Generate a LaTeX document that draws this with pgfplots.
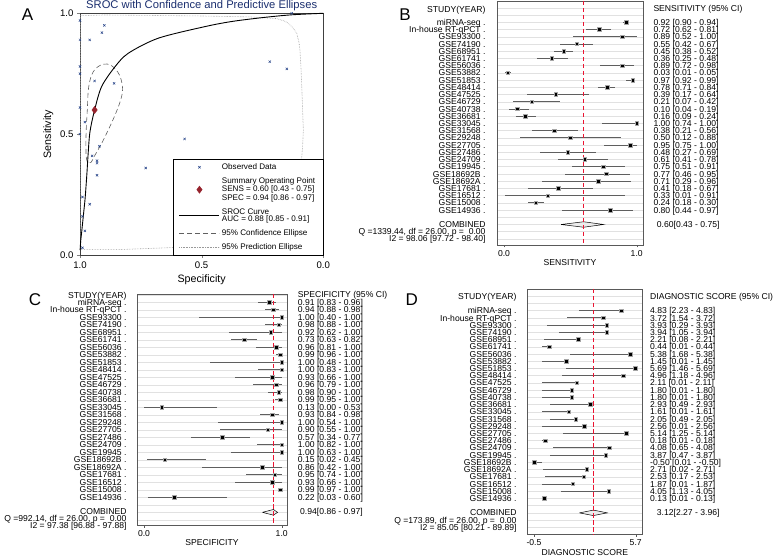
\documentclass[border=0pt]{standalone}
\usepackage{pgfplots}
\pgfplotsset{compat=1.18}
\usepackage{pgfplotstable}
\usepackage{fontspec}
\setmainfont{Liberation Sans}
\definecolor{navy}{RGB}{26,46,110}
\definecolor{obsblue}{RGB}{35,65,135}
\definecolor{sumred}{RGB}{150,35,45}
\definecolor{refred}{RGB}{235,20,50}
\definecolor{gridc}{RGB}{225,225,225}
\definecolor{cigray}{RGB}{95,95,95}
\newcommand\fs{\fontsize{8.6}{8.6}\selectfont}

\pgfplotstableread{
spec sens
0.91 0.92
0.94 0.72
1.00 0.89
0.98 0.55
0.92 0.45
0.73 0.36
0.96 0.89
0.99 0.03
1.00 0.97
1.00 0.78
0.93 0.39
0.96 0.21
0.98 0.10
0.99 0.16
0.13 1.00
0.93 0.38
1.00 0.50
0.90 0.95
0.57 0.48
1.00 0.61
1.00 0.75
0.15 0.77
0.86 0.71
0.95 0.41
0.93 0.33
0.99 0.24
0.22 0.80
}\obsdata

\pgfplotstableread{
r est lo hi
1 0.92 0.90 0.94
2 0.72 0.62 0.81
3 0.89 0.52 1.00
4 0.55 0.42 0.67
5 0.45 0.38 0.52
6 0.36 0.25 0.48
7 0.89 0.72 0.98
8 0.03 0.01 0.05
9 0.97 0.92 0.99
10 0.78 0.71 0.84
11 0.39 0.17 0.64
12 0.21 0.07 0.42
13 0.10 0.04 0.19
14 0.16 0.09 0.24
15 1.00 0.74 1.00
16 0.38 0.21 0.56
17 0.50 0.12 0.88
18 0.95 0.75 1.00
19 0.48 0.27 0.69
20 0.61 0.41 0.78
21 0.75 0.51 0.91
22 0.77 0.46 0.95
23 0.71 0.29 0.96
24 0.41 0.18 0.67
25 0.33 0.01 0.91
26 0.24 0.18 0.30
27 0.80 0.44 0.97
}\sensdata

\pgfplotstableread{
r est lo hi
1 0.91 0.83 0.96
2 0.94 0.88 0.98
3 1.00 0.40 1.00
4 0.98 0.88 1.00
5 0.92 0.62 1.00
6 0.73 0.63 0.82
7 0.96 0.81 1.00
8 0.99 0.96 1.00
9 1.00 0.48 1.00
10 1.00 0.83 1.00
11 0.93 0.66 1.00
12 0.96 0.79 1.00
13 0.98 0.90 1.00
14 0.99 0.95 1.00
15 0.13 0.00 0.53
16 0.93 0.84 0.98
17 1.00 0.54 1.00
18 0.90 0.55 1.00
19 0.57 0.34 0.77
20 1.00 0.82 1.00
21 1.00 0.63 1.00
22 0.15 0.02 0.45
23 0.86 0.42 1.00
24 0.95 0.74 1.00
25 0.93 0.66 1.00
26 0.99 0.97 1.00
27 0.22 0.03 0.60
}\specdata

\pgfplotstableread{
r est lo
1 4.83 2.23
2 3.72 1.54
3 3.93 0.29
4 3.94 1.05
5 2.21 0.08
6 0.44 0.01
7 5.38 1.68
8 1.45 0.01
9 5.69 1.46
10 4.96 1.18
11 2.11 0.01
12 1.80 0.01
13 1.80 0.01
14 2.93 0.49
15 1.61 0.01
16 2.05 0.49
17 2.56 0.01
18 5.14 1.25
19 0.18 0.01
20 4.08 0.65
21 3.87 0.47
22 -0.50 0.01
23 2.71 0.02
24 2.53 0.17
25 1.87 0.01
26 4.05 1.13
27 0.13 0.01
}\dsdata

\pgfplotsset{
  forest/.style={scale only axis, anchor=south west, y dir=reverse,
    axis line style={black!65}, ytick={-2,...,32}, yticklabels={},
    ymajorgrids, grid style={gridc, line width=0.45pt},
    major y tick style={draw=none}, tick align=outside, major tick length=2.5pt,
    xtick pos=lower, ytick pos=left, x tick style={black!65},
    ticklabel style={font=\fs}, xlabel style={font=\fs, yshift=3pt},
    xticklabel style={yshift=1pt}},
  cimarks/.style={only marks, mark=square*, mark size=1.8pt,
    mark options={fill=black, draw=gray!70, line width=0.6pt},
    error bars/.cd, x dir=both, x explicit,
    error bar style={cigray, line width=0.85pt}, error mark=none},
  refline/.style={refred, line width=1.7pt, dash pattern=on 4.5pt off 2.5pt, mark=none}
}

\def\studies{miRNA-seq,In-house RT-qPCT,GSE93300,GSE74190,GSE68951,GSE61741,GSE56036,GSE53882,GSE51853,GSE48414,GSE47525,GSE46729,GSE40738,GSE36681,GSE33045,GSE31568,GSE29248,GSE27705,GSE27486,GSE24709,GSE19945,GSE18692B,GSE18692A,GSE17681,GSE16512,GSE15008,GSE14936}

\begin{document}
\begin{tikzpicture}[x=1pt,y=1pt]
\useasboundingbox (0,0) rectangle (778,559);

% ---------------- Panel A ----------------
\begin{axis}[scale only axis, anchor=south west, at={(80pt,304pt)},
  width=243.3pt, height=241.7pt, xmin=0, xmax=1, ymin=0, ymax=1, x dir=reverse,
  xtick={0,0.5,1}, xticklabels={0.0,0.5,1.0},
  ytick={0,0.5,1}, yticklabels={0.0,0.5,1.0},
  tick align=outside, major tick length=3pt, xtick pos=lower, ytick pos=left,
  ticklabel style={font=\fontsize{9.6}{9.6}\selectfont},
  xlabel={Specificity}, ylabel={Sensitivity},
  label style={font=\fontsize{10.7}{10.7}\selectfont},
  axis line style={black!75}, clip=false,
  legend style={at={(axis description cs:1,0)}, anchor=south east, draw=black,
    fill=white, font=\fontsize{8.1}{7.5}\selectfont,
    cells={anchor=west, align=left}, row sep=2.5pt, inner xsep=6pt, inner ysep=2pt,
    /tikz/every even column/.append style={column sep=10pt}},
  legend cell align=left,
  legend image code/.code={\draw[mark repeat=2,mark phase=2,#1] plot coordinates {(0pt,0pt) (20pt,0pt) (40pt,0pt)};}
]
\addplot[gray!80, densely dotted, line width=0.6pt, forget plot] coordinates {
(0.997,0.022) (0.998,0.5) (0.998,0.99) (0.9,0.993) (0.7,0.991) (0.507,0.989)
(0.30,0.985) (0.191,0.978) (0.16,0.968) (0.144,0.959) (0.125,0.94) (0.109,0.917)
(0.100,0.88) (0.096,0.848) (0.092,0.78) (0.089,0.71) (0.085,0.6) (0.082,0.517)
(0.085,0.45) (0.089,0.40) (0.095,0.30) (0.11,0.18) (0.15,0.10) (0.25,0.06)
(0.45,0.04) (0.64,0.03) (0.85,0.022) (0.997,0.022)};
\addplot[gray!75!black, dash pattern=on 5pt off 3pt, line width=0.6pt, smooth, tension=0.6, forget plot] coordinates {
(0.970,0.386) (0.975,0.414) (0.975,0.503) (0.970,0.600) (0.964,0.697)
(0.945,0.759) (0.907,0.789) (0.870,0.783) (0.838,0.745) (0.825,0.690)
(0.833,0.641) (0.856,0.579) (0.884,0.517) (0.911,0.462) (0.938,0.414)
(0.956,0.382) (0.970,0.386)};
\addplot[black, line width=0.9pt, smooth, tension=0.5, forget plot] coordinates {
(0.9995,0.02) (0.997,0.06) (0.993,0.096) (0.986,0.165) (0.979,0.234) (0.972,0.331)
(0.966,0.427) (0.959,0.51) (0.94,0.60) (0.911,0.697) (0.856,0.779)
(0.801,0.835) (0.678,0.897) (0.486,0.945) (0.37,0.967) (0.233,0.984)
(0.126,0.994) (0,1.0)};
\addplot[only marks, mark=x, mark size=1.6pt, obsblue, line width=0.5pt, forget plot]
  table[x=spec, y=sens] {\obsdata};
\addplot[only marks, mark=diamond*, mark size=3.6pt, sumred, forget plot]
  coordinates {(0.94,0.60)};

\addlegendimage{only marks, mark=x, mark size=1.6pt, obsblue, line width=0.5pt}
\addlegendentry{Observed Data}
\addlegendimage{only marks, mark=diamond*, mark size=3.6pt, sumred}
\addlegendentry{Summary Operating Point\\SENS = 0.60 [0.43 - 0.75]\\SPEC = 0.94 [0.86 - 0.97]}
\addlegendimage{black, line width=0.9pt}
\addlegendentry{SROC Curve\\AUC = 0.88 [0.85 - 0.91]}
\addlegendimage{gray!75!black, dash pattern=on 5pt off 3pt, line width=0.6pt}
\addlegendentry{95\% Confidence Ellipse}
\addlegendimage{gray!80, densely dotted, line width=0.6pt}
\addlegendentry{95\% Prediction Ellipse}
\end{axis}
\node[font=\fontsize{11.2}{11.2}\selectfont, text=navy] at (201.7,553.3) {SROC with Confidence and Predictive Ellipses};

% ---------------- Panel B ----------------
\begin{axis}[forest, at={(497pt,314pt)}, width=146pt, height=244pt,
  xmin=-0.0528, xmax=1.0475, ymin=-1.95, ymax=31.84,
  xtick={0,1}, xticklabels={0.0,1.0}, xlabel={SENSITIVITY}]
\addplot[cimarks] table[x=est, y=r,
  x error plus expr=\thisrow{hi}-\thisrow{est},
  x error minus expr=\thisrow{est}-\thisrow{lo}] {\sensdata};
\addplot[black, line width=0.5pt, fill=gray!15] coordinates {(0.43,29) (0.60,28.62) (0.75,29) (0.60,29.38) (0.43,29)};
\addplot[refline] coordinates {(0.60,-1.95) (0.60,31.84)};
\end{axis}

% ---------------- Panel C ----------------
\begin{axis}[forest, at={(136.7pt,34pt)}, width=150.6pt, height=231pt,
  xmin=-0.053, xmax=1.0407, ymin=-0.107, ymax=30.69,
  xtick={0,1}, xticklabels={0.0,1.0}, xlabel={SPECIFICITY}]
\addplot[cimarks] table[x=est, y=r,
  x error plus expr=\thisrow{hi}-\thisrow{est},
  x error minus expr=\thisrow{est}-\thisrow{lo}] {\specdata};
\addplot[black, line width=0.5pt, fill=gray!15] coordinates {(0.86,29) (0.94,28.62) (0.97,29) (0.94,29.38) (0.86,29)};
\addplot[refline] coordinates {(0.94,-0.107) (0.94,30.69)};
\end{axis}

% ---------------- Panel D ----------------
\begin{axis}[forest, at={(527.3pt,24.7pt)}, width=115pt, height=245.3pt,
  xmin=-0.9085, xmax=6.102, ymin=-2.006, ymax=31.97,
  xtick={-0.5,5.7}, xticklabels={-0.5,5.7}, xlabel={DIAGNOSTIC SCORE}]
\addplot[cimarks] table[x=est, y=r,
  x error plus expr={max(\thisrow{lo}-\thisrow{est},0)},
  x error minus expr={max(\thisrow{est}-\thisrow{lo},0)}] {\dsdata};
\addplot[black, line width=0.5pt, fill=gray!15] coordinates {(2.27,29) (3.12,28.62) (3.96,29) (3.12,29.38) (2.27,29)};
\addplot[refline] coordinates {(3.12,-2.006) (3.12,31.97)};
\end{axis}

% ---------------- Texts ----------------
\tikzset{lab/.style={font=\fs, inner sep=0pt}}
\tikzset{big/.style={font=\fontsize{17}{17}\selectfont, inner sep=0pt}}
\node[big] at (27.5,544.5) {A};
\node[big] at (405,544) {B};
\node[big] at (35,259) {C};
\node[big] at (411.7,259) {D};

\foreach \t [count=\i] in \studies
  \node[lab, anchor=base east] at (485.7, 536.7-7.22*\i+7.22-3.1) {\t\ .};
\foreach \t [count=\i] in {0.92 [0.90 - 0.94],0.72 [0.62 - 0.81],0.89 [0.52 - 1.00],0.55 [0.42 - 0.67],0.45 [0.38 - 0.52],0.36 [0.25 - 0.48],0.89 [0.72 - 0.98],0.03 [0.01 - 0.05],0.97 [0.92 - 0.99],0.78 [0.71 - 0.84],0.39 [0.17 - 0.64],0.21 [0.07 - 0.42],0.10 [0.04 - 0.19],0.16 [0.09 - 0.24],1.00 [0.74 - 1.00],0.38 [0.21 - 0.56],0.50 [0.12 - 0.88],0.95 [0.75 - 1.00],0.48 [0.27 - 0.69],0.61 [0.41 - 0.78],0.75 [0.51 - 0.91],0.77 [0.46 - 0.95],0.71 [0.29 - 0.96],0.41 [0.18 - 0.67],0.33 [0.01 - 0.91],0.24 [0.18 - 0.30],0.80 [0.44 - 0.97]}
  \node[lab, anchor=base west] at (653.3, 536.7-7.22*\i+7.22-3.1) {\t};
\node[lab, anchor=base east] at (485.7, 550-3.1) {STUDY(YEAR)};
\node[lab, anchor=base west] at (653.3, 551-3.1) {SENSITIVITY (95\% CI)};
\node[lab, anchor=base east] at (485.7, 536.7-7.22*28-3.1) {COMBINED};
\node[lab, anchor=base west] at (656.7, 536.7-7.22*28-3.1) {0.60[0.43 - 0.75]};
\node[lab, anchor=base east] at (485.7, 536.7-7.22*29-3.1) {Q =1339.44, df = 26.00, p = \ 0.00};
\node[lab, anchor=base east] at (485.7, 536.7-7.22*30-3.1) {I2 = 98.06 [97.72 - 98.40]};

\foreach \t [count=\i] in \studies
  \node[lab, anchor=base east] at (126.7, 256.7-7.5*\i+7.5-3.1) {\t\ .};
\foreach \t [count=\i] in {0.91 [0.83 - 0.96],0.94 [0.88 - 0.98],1.00 [0.40 - 1.00],0.98 [0.88 - 1.00],0.92 [0.62 - 1.00],0.73 [0.63 - 0.82],0.96 [0.81 - 1.00],0.99 [0.96 - 1.00],1.00 [0.48 - 1.00],1.00 [0.83 - 1.00],0.93 [0.66 - 1.00],0.96 [0.79 - 1.00],0.98 [0.90 - 1.00],0.99 [0.95 - 1.00],0.13 [0.00 - 0.53],0.93 [0.84 - 0.98],1.00 [0.54 - 1.00],0.90 [0.55 - 1.00],0.57 [0.34 - 0.77],1.00 [0.82 - 1.00],1.00 [0.63 - 1.00],0.15 [0.02 - 0.45],0.86 [0.42 - 1.00],0.95 [0.74 - 1.00],0.93 [0.66 - 1.00],0.99 [0.97 - 1.00],0.22 [0.03 - 0.60]}
  \node[lab, anchor=base west] at (297.7, 256.7-7.5*\i+7.5-3.1) {\t};
\node[lab, anchor=base east] at (126.7, 264-3.1) {STUDY(YEAR)};
\node[lab, anchor=base west] at (297.7, 264.5-3.1) {SPECIFICITY (95\% CI)};
\node[lab, anchor=base east] at (126.7, 256.7-7.5*28+0.5-3.1) {COMBINED};
\node[lab, anchor=base west] at (300, 256.7-7.5*28+0.5-3.1) {0.94[0.86 - 0.97]};
\node[lab, anchor=base east] at (126.7, 559-518.4-3.1) {Q =992.14, df = 26.00, p = \ 0.00};
\node[lab, anchor=base east] at (126.7, 559-525.2-3.1) {I2 = 97.38 [96.88 - 97.88]};

\foreach \t [count=\i] in \studies
  \node[lab, anchor=base east] at (516.7, 248.3-7.22*\i+7.22-3.1) {\t\ .};
\foreach \t [count=\i] in {4.83 [2.23 - 4.83],3.72 [1.54 - 3.72],3.93 [0.29 - 3.93],3.94 [1.05 - 3.94],2.21 [0.08 - 2.21],0.44 [0.01 - 0.44],5.38 [1.68 - 5.38],1.45 [0.01 - 1.45],5.69 [1.46 - 5.69],4.96 [1.18 - 4.96],2.11 [0.01 - 2.11],1.80 [0.01 - 1.80],1.80 [0.01 - 1.80],2.93 [0.49 - 2.93],1.61 [0.01 - 1.61],2.05 [0.49 - 2.05],2.56 [0.01 - 2.56],5.14 [1.25 - 5.14],0.18 [0.01 - 0.18],4.08 [0.65 - 4.08],3.87 [0.47 - 3.87],-0.50 [0.01 - -0.50],2.71 [0.02 - 2.71],2.53 [0.17 - 2.53],1.87 [0.01 - 1.87],4.05 [1.13 - 4.05],0.13 [0.01 - 0.13]}
  \node[lab, anchor=base west] at (650, 248.3-7.22*\i+7.22-3.1) {\t};
\node[lab, anchor=base east] at (516.7, 263-3.1) {STUDY(YEAR)};
\node[lab, anchor=base west] at (650, 263-3.1) {DIAGNOSTIC SCORE (95\% CI)};
\node[lab, anchor=base east] at (516.7, 248.3-7.22*28-3.1) {COMBINED};
\node[lab, anchor=base west] at (656.7, 248.3-7.22*28-3.1) {3.12[2.27 - 3.96]};
\node[lab, anchor=base east] at (516.7, 248.3-7.22*29-3.1) {Q =173.89, df = 26.00, p = \ 0.00};
\node[lab, anchor=base east] at (516.7, 248.3-7.22*30-3.1) {I2 = 85.05 [80.21 - 89.89]};
\end{tikzpicture}
\end{document}
